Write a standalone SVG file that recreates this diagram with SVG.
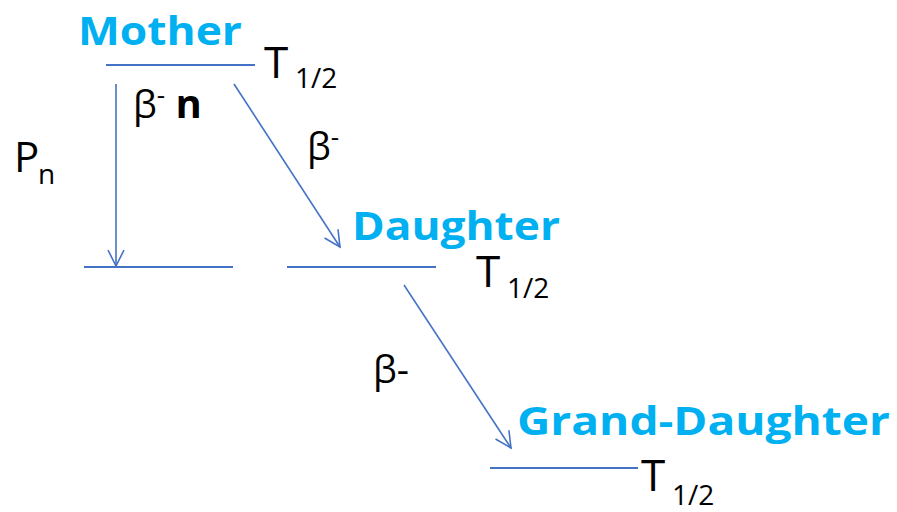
<svg xmlns="http://www.w3.org/2000/svg" width="897" height="512" viewBox="0 0 897 512">
<defs>
<marker id="arr" viewBox="0 0 20 20" refX="18" refY="10" markerWidth="20" markerHeight="20" markerUnits="userSpaceOnUse" orient="auto">
<path d="M2,2 L18,10 L2,18" fill="none" stroke="#4472C4" stroke-width="1.6"/>
</marker>
<style>
.lvl{stroke:#4472C4;stroke-width:2;fill:none}
.con{stroke:#4472C4;stroke-width:1.6;fill:none}
.name{font-family:"Open Sans","DejaVu Sans",sans-serif;font-weight:bold;fill:#00B0F0;font-size:40px}
.lab{font-family:"Open Sans","DejaVu Sans",sans-serif;fill:#000}
</style>
</defs>
<rect width="897" height="512" fill="#fff"/>
<g id="mother">
<line class="lvl" x1="106" y1="65" x2="255" y2="65"/>
<text class="name" x="78" y="45" textLength="164" lengthAdjust="spacingAndGlyphs">Mother</text>
<text class="lab" x="264" y="78" font-size="44">T</text>
<text class="lab" x="295" y="88" font-size="28">1/2</text>
</g>
<g id="pn-level">
<line class="lvl" x1="84" y1="267" x2="233" y2="267"/>
</g>
<g id="daughter">
<line class="lvl" x1="287" y1="267" x2="436" y2="267"/>
<text class="name" x="352" y="240" textLength="208" lengthAdjust="spacingAndGlyphs">Daughter</text>
<text class="lab" x="476" y="287" font-size="44">T</text>
<text class="lab" x="507" y="298" font-size="28">1/2</text>
</g>
<g id="granddaughter">
<line class="lvl" x1="490" y1="468" x2="638" y2="468"/>
<text class="name" x="517" y="435" textLength="373" lengthAdjust="spacingAndGlyphs">Grand-Daughter</text>
<text class="lab" x="641" y="491" font-size="44">T</text>
<text class="lab" x="672" y="505" font-size="28">1/2</text>
</g>
<g id="connectors">
<line class="con" x1="116" y1="84" x2="116" y2="266" marker-end="url(#arr)"/>
<line class="con" x1="234" y1="84" x2="340" y2="247" marker-end="url(#arr)"/>
<line class="con" x1="404" y1="285" x2="511" y2="448" marker-end="url(#arr)"/>
</g>
<g id="labels">
<text class="lab" x="133" y="118" font-size="38">β<tspan font-size="26" dy="-14">-</tspan><tspan dy="14" font-weight="bold" font-size="40"> n</tspan></text>
<text class="lab" x="14" y="172" font-size="42">P</text>
<text class="lab" x="38" y="184" font-size="28">n</text>
<text class="lab" x="307" y="160" font-size="38">β<tspan font-size="26" dy="-14">-</tspan></text>
<text class="lab" x="373" y="383" font-size="38">β-</text>
</g>
</svg>
